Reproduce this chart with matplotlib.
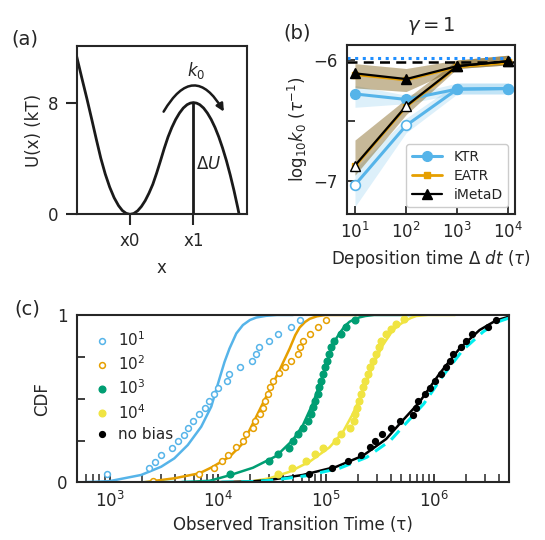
import numpy as np
import matplotlib
matplotlib.use("Agg")
import matplotlib.pyplot as plt
import seaborn as sns
from matplotlib.patches import FancyArrowPatch

sns.set_style("ticks")
plt.rcParams['font.family'] = ['DejaVu Sans']
plt.rcParams['mathtext.fontset'] = 'dejavusans'

# ---------------- data ----------------
# (a) potential, x in units where x0 = 0, x1 = 1
pot_x = [-0.84, -0.76, -0.68, -0.60, -0.53, -0.46, -0.39, -0.32, -0.25, -0.18, -0.12, -0.06,
         0.0, 0.06, 0.12, 0.18, 0.24, 0.30, 0.36, 0.42, 0.48, 0.54, 0.60, 0.66, 0.72, 0.78,
         0.84, 0.90, 0.95, 1.0, 1.05, 1.10, 1.16, 1.22, 1.28, 1.34, 1.40, 1.46, 1.52, 1.58,
         1.64, 1.70, 1.72]
pot_u = [11.3, 9.78, 8.3, 6.75, 5.36, 4.02, 2.89, 1.95, 1.19, 0.62, 0.27, 0.07,
         0.0, 0.06, 0.25, 0.56, 0.98, 1.52, 2.15, 2.95, 3.82, 4.72, 5.54, 6.22, 6.79, 7.25,
         7.61, 7.85, 7.96, 8.0, 7.96, 7.85, 7.61, 7.25, 6.79, 6.22, 5.54, 4.74, 3.84, 2.82,
         1.69, 0.45, 0.0]
barrier = 8.0
pot_xticks = [0.0, 1.0]
pot_xticklabels = ['x0', 'x1']

# (b) rates
dep_time = [10, 100, 1000, 10000]
ktr_full = [-6.28, -6.325, -6.24, -6.235]
ktr_full_lo = [-6.39, -6.36, -6.28, -6.28]
ktr_full_hi = [-6.21, -6.29, -6.19, -6.19]
ktr_open = [-7.03, -6.54, -6.24, -6.235]
ktr_open_lo = [-7.21, -6.60, -6.28, -6.28]
ktr_open_hi = [-6.90, -6.48, -6.19, -6.19]
eatr_full = [-6.12, -6.165, -6.055, -6.02]
eatr_open = [-6.875, -6.385, -6.055, -6.02]
imeta_full = [-6.11, -6.157, -6.05, -6.01]
imeta_full_lo = [-6.23, -6.26, -6.07, -6.04]
imeta_full_hi = [-6.03, -6.07, -6.00, -5.96]
imeta_open = [-6.87, -6.38, -6.05, -6.01]
imeta_open_lo = [-6.95, -6.45, -6.07, -6.04]
imeta_open_hi = [-6.66, -6.32, -6.00, -5.96]
true_rate = -6.017
ref_rate = -5.983

# (c) CDF data (log10 of time)
c10_t = [2.975, 3.361, 3.417, 3.475, 3.58, 3.632, 3.688, 3.731, 3.771, 3.824, 3.88,
         3.92, 3.966, 4.003, 4.09, 4.105, 4.21, 4.321, 4.352, 4.382, 4.481, 4.562,
         4.676, 4.759]
c10_y = [0.049, 0.087, 0.124, 0.166, 0.208, 0.246, 0.285, 0.325, 0.365, 0.407, 0.447,
         0.488, 0.528, 0.564, 0.608, 0.648, 0.688, 0.727, 0.767, 0.807, 0.847, 0.887,
         0.93, 0.968]
c100_t = [3.407, 3.833, 3.966, 4.04, 4.096, 4.174, 4.234, 4.259, 4.327, 4.349, 4.389,
          4.42, 4.442, 4.466, 4.488, 4.512, 4.565, 4.627, 4.676, 4.744, 4.76, 4.791,
          4.853, 4.93, 5.007]
c100_y = [0.009, 0.049, 0.088, 0.128, 0.166, 0.21, 0.248, 0.288, 0.327, 0.367, 0.407,
          0.447, 0.488, 0.528, 0.568, 0.608, 0.652, 0.688, 0.727, 0.767, 0.807, 0.847,
          0.887, 0.93, 0.97]
c1000_t = [4.118, 4.475, 4.559, 4.658, 4.697, 4.744, 4.79, 4.836, 4.861, 4.882, 4.907,
           4.929, 4.944, 4.96, 4.975, 4.997, 5.012, 5.028, 5.046, 5.074, 5.14, 5.192,
           5.276]
c1000_y = [0.049, 0.128, 0.168, 0.208, 0.248, 0.288, 0.327, 0.367, 0.407, 0.449, 0.488,
           0.528, 0.568, 0.608, 0.648, 0.688, 0.727, 0.767, 0.807, 0.847, 0.887, 0.93,
           0.97]
c10000_t = [4.56, 4.69, 4.816, 4.899, 4.976, 5.10, 5.146, 5.222, 5.26, 5.275, 5.29,
            5.309, 5.33, 5.345, 5.367, 5.392, 5.414, 5.438, 5.469, 5.493, 5.516, 5.562,
            5.608, 5.65, 5.73]
c10000_y = [0.049, 0.088, 0.128, 0.168, 0.208, 0.248, 0.288, 0.327, 0.367, 0.407, 0.447,
            0.488, 0.528, 0.568, 0.608, 0.648, 0.688, 0.727, 0.767, 0.807, 0.847, 0.887,
            0.915, 0.945, 0.975]
cnob_t = [4.85, 5.06, 5.207, 5.331, 5.408, 5.459, 5.525, 5.608, 5.688, 5.809, 5.84,
          5.86, 5.917, 5.963, 6.013, 6.071, 6.118, 6.15, 6.183, 6.257, 6.303, 6.358,
          6.504, 6.58]
cnob_y = [0.049, 0.088, 0.126, 0.166, 0.212, 0.249, 0.288, 0.328, 0.368, 0.405, 0.445,
          0.488, 0.528, 0.565, 0.606, 0.650, 0.689, 0.727, 0.768, 0.808, 0.847, 0.887,
          0.929, 0.972]

# (c) fitted CDF curves (log10 time, CDF)
f10_t = [2.699, 3.0, 3.293, 3.478, 3.6, 3.725, 3.849, 3.942, 4.018, 4.065, 4.111, 4.174,
         4.235, 4.30, 4.36, 4.45, 4.55, 4.7]
f10_y = [0.0, 0.008, 0.045, 0.094, 0.144, 0.224, 0.333, 0.453, 0.62, 0.72, 0.80, 0.89,
         0.94, 0.97, 0.985, 0.995, 1.0, 1.0]
f100_t = [3.3, 3.6, 3.833, 3.957, 4.112, 4.235, 4.328, 4.42, 4.513, 4.575, 4.668, 4.72,
          4.76, 4.81, 4.853, 4.92, 5.0, 5.3]
f100_y = [0.0, 0.025, 0.055, 0.094, 0.154, 0.234, 0.353, 0.473, 0.592, 0.672, 0.80, 0.88,
          0.925, 0.958, 0.977, 0.992, 1.0, 1.0]
f1000_t = [3.6, 3.926, 4.112, 4.328, 4.544, 4.698, 4.791, 4.883, 4.96, 5.038, 5.08, 5.13,
           5.18, 5.223, 5.27, 5.316, 5.37, 5.45, 5.8]
f1000_y = [0.0, 0.01, 0.043, 0.088, 0.158, 0.254, 0.343, 0.473, 0.612, 0.771, 0.84, 0.891,
           0.935, 0.96, 0.975, 0.986, 0.994, 1.0, 1.0]
f10000_t = [4.0, 4.3, 4.48, 4.667, 4.852, 5.037, 5.16, 5.253, 5.315, 5.38, 5.438, 5.531,
            5.623, 5.68, 5.747, 5.79, 5.84, 5.95, 6.2]
f10000_y = [0.0, 0.005, 0.025, 0.064, 0.124, 0.21, 0.30, 0.41, 0.50, 0.60, 0.70, 0.82,
            0.909, 0.94, 0.968, 0.982, 0.994, 1.0, 1.0]
fnob_t = [3.3, 4.0, 4.3, 4.48, 4.79, 5.1, 5.346, 5.562, 5.70, 5.87, 6.056, 6.241, 6.426,
          6.58, 6.699]
fnob_y = [0.0, 0.002, 0.006, 0.015, 0.045, 0.094, 0.16, 0.26, 0.36, 0.48, 0.65, 0.80, 0.91,
          0.968, 0.99]
fcy_t = [3.3, 4.0, 4.3, 4.5, 4.82, 5.13, 5.38, 5.60, 5.74, 5.91, 6.09, 6.27, 6.46, 6.60,
         6.699]
fcy_y = [0.0, 0.002, 0.005, 0.013, 0.04, 0.085, 0.15, 0.25, 0.35, 0.47, 0.64, 0.79, 0.90,
         0.96, 0.982]

legend_labels = ['$10^1$', '$10^2$', '$10^3$', '$10^4$', 'no bias']

# ---------------- style ----------------
BLUE = '#56B4E9'
ORANGE = '#E69F00'
GREEN = '#009E73'
YELLOW = '#F0E442'
TXT = '#262626'
fs = 12

fig = plt.figure(figsize=(5.45, 5.4), dpi=100)

# ---------------- (a) ----------------
axa = fig.add_axes([0.1407, 0.6031, 0.312, 0.3117])
axa.plot(pot_x, pot_u, color='#1a1a1a', lw=2.0, solid_joinstyle='round')
axa.plot([1.0, 1.0], [0, barrier], color='#1a1a1a', lw=2.0)
axa.set_xlim(-0.84, 1.84)
axa.set_ylim(0, 12.05)
axa.set_xticks(pot_xticks)
axa.set_xticklabels(pot_xticklabels)
axa.set_yticks([0, 8])
axa.tick_params(labelsize=fs, direction='out', length=8, width=1.5, color=TXT,
                labelcolor=TXT, pad=5)
axa.set_xlabel('x', fontsize=fs, color=TXT, labelpad=6)
axa.set_ylabel('U(x) (kT)', fontsize=fs, color=TXT)
arr = FancyArrowPatch(posA=(0.53, 7.35), posB=(1.48, 7.35),
                      connectionstyle="arc3,rad=-0.85", arrowstyle='-|>',
                      mutation_scale=11, lw=1.8, color='#1a1a1a', shrinkA=0, shrinkB=0)
axa.add_patch(arr)
axa.text(1.05, 10.3, '$k_0$', fontsize=fs, ha='center', va='center', color=TXT)
axa.text(1.24, 3.6, r'$\Delta U$', fontsize=fs, ha='center', va='center', color=TXT)
for s in axa.spines.values():
    s.set_linewidth(1.5)
    s.set_color(TXT)

# ---------------- (b) ----------------
axb = fig.add_axes([0.6373, 0.6037, 0.3077, 0.313])
axb.set_xscale('log')
axb.fill_between(dep_time, ktr_full_lo, ktr_full_hi, color=BLUE, alpha=0.2, lw=0)
axb.fill_between(dep_time, ktr_open_lo, ktr_open_hi, color=BLUE, alpha=0.2, lw=0)
axb.fill_between(dep_time, imeta_full_lo, imeta_full_hi, color=ORANGE, alpha=0.25, lw=0)
axb.fill_between(dep_time, imeta_full_lo, imeta_full_hi, color='k', alpha=0.2, lw=0)
axb.fill_between(dep_time, imeta_open_lo, imeta_open_hi, color=ORANGE, alpha=0.25, lw=0)
axb.fill_between(dep_time, imeta_open_lo, imeta_open_hi, color='k', alpha=0.2, lw=0)
axb.axhline(true_rate, color='k', ls=(0, (4, 2.5)), lw=1.8)
axb.axhline(ref_rate, color='#1f8fff', ls=(0, (1, 1.5)), lw=2.2)
axb.plot(dep_time, ktr_open, color=BLUE, lw=2.2, marker='o', ms=7, mfc='white', mec=BLUE, mew=1.2)
axb.plot(dep_time, ktr_full, color=BLUE, lw=2.2, marker='o', ms=7, label='KTR')
axb.plot(dep_time, eatr_open, color=ORANGE, lw=2.0, marker='s', ms=5, mfc='white', mec=ORANGE)
axb.plot(dep_time, eatr_full, color=ORANGE, lw=2.0, marker='s', ms=5, label='EATR')
axb.plot(dep_time, imeta_open, color='k', lw=1.6, marker='^', ms=7, mfc='white', mec='k', mew=1.0)
axb.plot(dep_time, imeta_full, color='k', lw=1.6, marker='^', ms=7, label='iMetaD')
axb.set_xlim(10 ** 0.85, 10 ** 4.13)
axb.set_ylim(-7.27, -5.876)
axb.set_xticks(dep_time)
axb.minorticks_off()
axb.set_yticks([-7, -6.5, -6])
axb.set_yticklabels(['\u22127', '', '\u22126'])
axb.tick_params(labelsize=fs, direction='in', length=6, width=1.25, color=TXT, labelcolor=TXT)
axb.tick_params(axis='x', pad=6)
axb.tick_params(axis='y', pad=7)
axb.set_xlabel(r'Deposition time $\Delta$ $dt$ ($\tau$)', fontsize=fs, color=TXT)
axb.set_ylabel(r'log$_{10}k_0$ ($\tau^{-1}$)', fontsize=fs, color=TXT, labelpad=2)
axb.set_title(r'$\gamma = 1$', fontsize=14, color=TXT, pad=10)
leg = axb.legend(loc='lower right', fontsize=10, handlelength=2.2, borderpad=0.4,
                 labelspacing=0.35, framealpha=1.0)
for t in leg.get_texts():
    t.set_color(TXT)
for s in axb.spines.values():
    s.set_linewidth(1.5)
    s.set_color(TXT)

# ---------------- (c) ----------------
axc = fig.add_axes([0.1413, 0.1065, 0.7927, 0.3102])
axc.set_xscale('log')
p = lambda a: np.power(10.0, np.asarray(a))
axc.plot(p(f10_t), f10_y, color=BLUE, lw=1.8)
axc.plot(p(f100_t), f100_y, color=ORANGE, lw=1.8)
axc.plot(p(f1000_t), f1000_y, color=GREEN, lw=1.8)
axc.plot(p(f10000_t), f10000_y, color=YELLOW, lw=1.8)
axc.plot(p(fnob_t), fnob_y, color='k', lw=1.8)
axc.plot(p(fcy_t), fcy_y, color='#00eeee', lw=2.2, ls=(0, (4, 2.5)))
ms = 4.2
axc.plot(p(c10_t), c10_y, ls='none', marker='o', ms=ms, mfc='white', mec=BLUE, mew=1.1, label=legend_labels[0])
axc.plot(p(c100_t), c100_y, ls='none', marker='o', ms=ms, mfc='white', mec=ORANGE, mew=1.1, label=legend_labels[1])
axc.plot(p(c1000_t), c1000_y, ls='none', marker='o', ms=ms + 0.6, color=GREEN, label=legend_labels[2])
axc.plot(p(c10000_t), c10000_y, ls='none', marker='o', ms=ms + 0.6, color=YELLOW, label=legend_labels[3])
axc.plot(p(cnob_t), cnob_y, ls='none', marker='o', ms=ms, color='k', label=legend_labels[4])
axc.set_xlim(5e2, 5e6)
axc.set_ylim(0, 1)
axc.set_yticks([0, 0.25, 0.5, 0.75, 1])
axc.set_yticklabels(['0', '', '', '', '1'])
axc.set_xticks([1e3, 1e4, 1e5, 1e6])
axc.tick_params(labelsize=fs, direction='in', length=6, width=1.25, color=TXT, labelcolor=TXT)
axc.tick_params(axis='x', which='minor', direction='in', length=6, width=1.1, color=TXT)
axc.tick_params(axis='x', pad=6)
axc.tick_params(axis='y', pad=7)
axc.set_xlabel('Observed Transition Time (\u03c4)', fontsize=fs, color=TXT)
axc.set_ylabel('CDF', fontsize=fs, color=TXT)
legc = axc.legend(loc='upper left', bbox_to_anchor=(0.02, 0.97), frameon=False, fontsize=11,
                  handlelength=0.8, handletextpad=0.6, labelspacing=0.35, borderaxespad=0.3)
for t in legc.get_texts():
    t.set_color(TXT)
for s in axc.spines.values():
    s.set_linewidth(1.5)
    s.set_color(TXT)

# panel labels
fig.text(0.046, 0.928, '(a)', fontsize=14, ha='center', va='center', color=TXT)
fig.text(0.545, 0.938, '(b)', fontsize=14, ha='center', va='center', color=TXT)
fig.text(0.051, 0.428, '(c)', fontsize=14, ha='center', va='center', color=TXT)

fig.savefig('out.png', dpi=100)
